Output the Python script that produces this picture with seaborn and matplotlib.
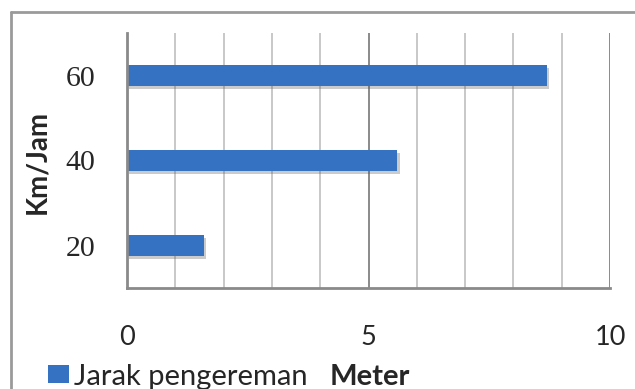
import matplotlib
matplotlib.use("Agg")
import matplotlib.pyplot as plt
import matplotlib.patheffects as pe
from matplotlib.lines import Line2D
from matplotlib.patches import Rectangle
import numpy as np
import pandas as pd
import seaborn as sns

# data
speeds = ["60", "40", "20"]          # Km/Jam, top to bottom
braking = [8.7, 5.6, 1.6]            # Jarak pengereman (Meter)
x_ticks = [0, 5, 10]
series_name = "Jarak pengereman"

df = pd.DataFrame({"speed": speeds, "distance": braking})

sns.set_style("white")
bar_color = "#3672c2"

fig = plt.figure(figsize=(6.35, 3.89), dpi=100)
ax = fig.add_axes([127 / 635, 1 - 288 / 389, (610 - 127) / 635, (288 - 33) / 389])

sns.barplot(data=df, x="distance", y="speed", order=speeds, orient="h",
            color=bar_color, width=0.25, saturation=1, ax=ax)
for patch in ax.patches:
    patch.set_edgecolor("none")
    patch.set_path_effects([pe.SimplePatchShadow(offset=(1.5, -2), alpha=0.3,
                                                 shadow_rgbFace="#555555"),
                            pe.Normal()])

ax.set_xlim(0, 10)
ax.set_ylim(2.5, -0.5)

# vertical gridlines every 1 unit, darker at the major ticks
ax.set_xticks(x_ticks)
ax.set_xticks(np.arange(0, 11, 1), minor=True)
ax.grid(axis="x", which="minor", color="#c8c8c8", linewidth=1.4)
ax.grid(axis="x", which="major", color="#8a8a8a", linewidth=1.4)
ax.grid(axis="y", visible=False)
ax.set_axisbelow(True)

for side in ["top", "right"]:
    ax.spines[side].set_visible(False)
for side in ["left", "bottom"]:
    ax.spines[side].set_color("#8a8a8a")
    ax.spines[side].set_linewidth(2)

ax.tick_params(axis="x", which="major", direction="out", length=6.5, width=2,
               color="#8a8a8a", pad=20)
ax.tick_params(axis="x", which="minor", length=0)
ax.tick_params(axis="y", length=0, pad=23)
ax.set_xticklabels([str(t) for t in x_ticks], fontfamily="Lato", fontsize=19.5)
ax.set_yticklabels(speeds, fontfamily="Liberation Serif", fontsize=21.5)

ax.set_xlabel("")
ax.set_ylabel("")
fig.text(37 / 635, 1 - 162 / 389, "Km/Jam", rotation=90, ha="center", va="center",
         fontfamily="Lato", fontweight="bold", fontsize=20)

# legend row at the bottom: square, series name, bold unit
fig.patches.append(Rectangle((48 / 635, 1 - 383 / 389), 21 / 635, 18 / 389,
                             transform=fig.transFigure, facecolor=bar_color,
                             edgecolor="none"))
fig.text(74 / 635, 1 - 377 / 389, series_name, ha="left", va="center",
         fontfamily="Lato", fontsize=21)
fig.text(330 / 635, 1 - 377 / 389, "Meter", ha="left", va="center",
         fontfamily="Lato", fontweight="bold", fontsize=21)

# outer chart frame (top and left edges visible)
fig.add_artist(Line2D([11 / 635, 1], [1 - 12 / 389, 1 - 12 / 389],
                      transform=fig.transFigure, color="#9a9a9a", linewidth=2))
fig.add_artist(Line2D([11 / 635, 11 / 635], [0, 1 - 12 / 389],
                      transform=fig.transFigure, color="#9a9a9a", linewidth=2))

fig.savefig("out.png", dpi=100)
